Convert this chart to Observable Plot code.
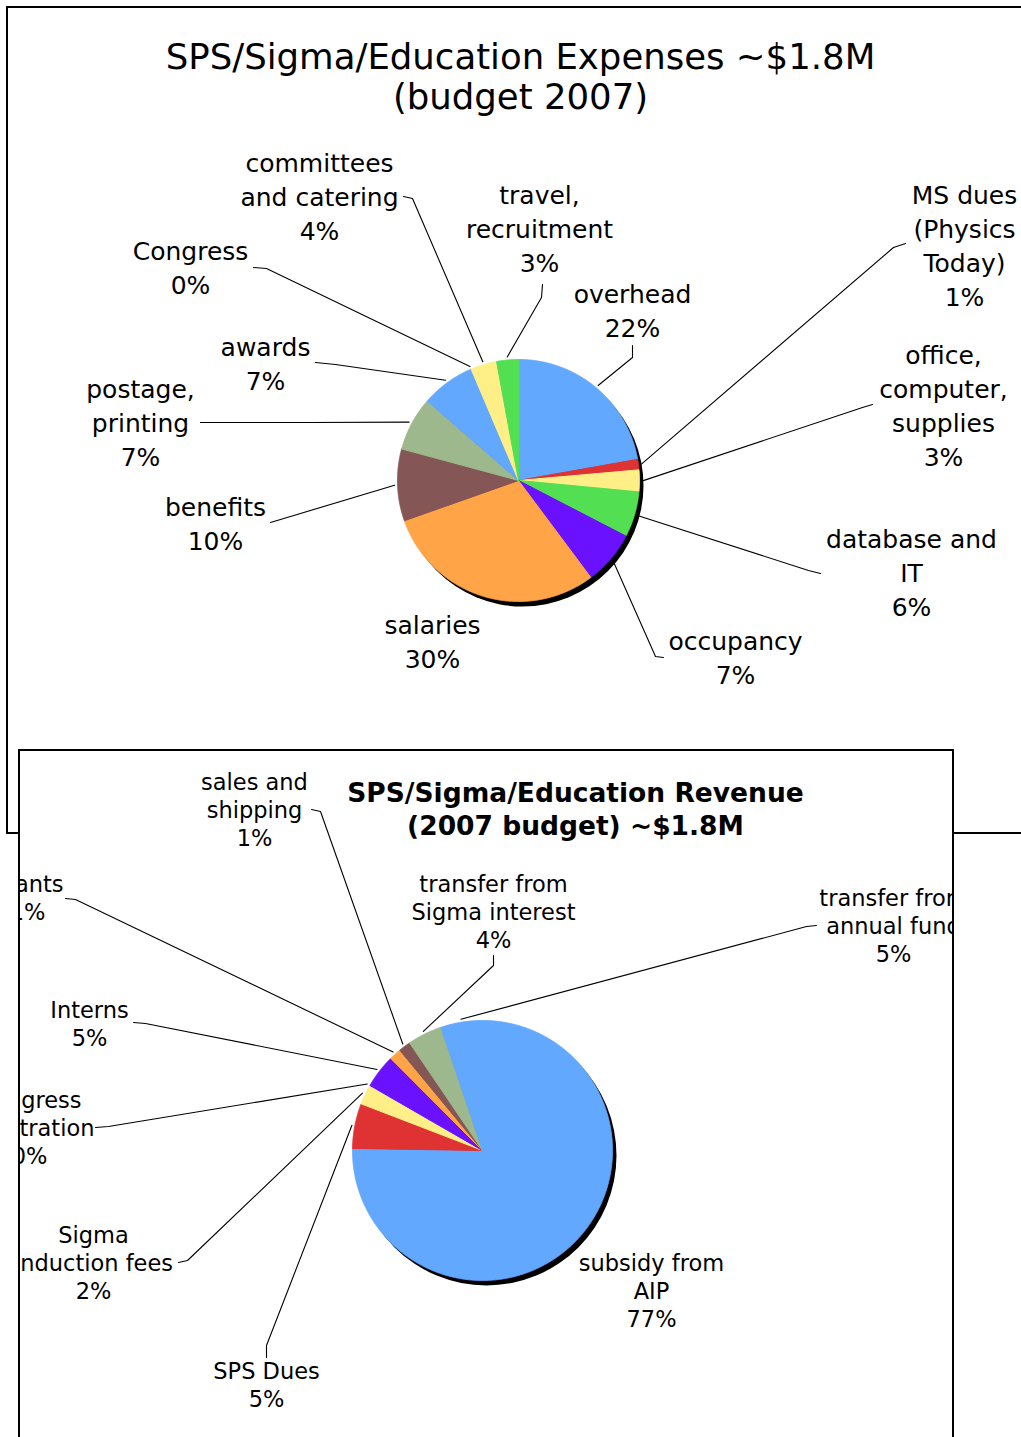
<!DOCTYPE html>
<html><head><meta charset="utf-8">
<script src="https://cdn.jsdelivr.net/npm/d3@7"></script>
<script src="https://cdn.jsdelivr.net/npm/@observablehq/plot@0.6"></script>
<style>
html,body{margin:0;padding:0;background:#fff;width:1021px;height:1437px;overflow:hidden;position:relative}
.panel{position:absolute;border:2px solid #000;background:#fff;overflow:hidden}
#p1{left:6px;top:6px;width:1100px;height:824px}
#p2{left:18px;top:749px;width:932px;height:720px}
.panel svg{max-width:none;display:block}
</style></head><body>
<div id="p1" class="panel"></div><div id="p2" class="panel"></div>
<script>
// ---------- DATA ----------
const palette = ["#62A8FE","#DF3232","#FFEF86","#52E052","#6A12FF","#FFA547","#855656","#9DB88C"];

const expenseTitle = "SPS/Sigma/Education Expenses ~$1.8M\n(budget 2007)";
const expenseCategories = ["overhead","MS dues\n(Physics\nToday)","office,\ncomputer,\nsupplies","database and\nIT","occupancy","salaries","benefits","postage,\nprinting","awards","Congress","committees\nand catering","travel,\nrecruitment"];
const expenseValues = [22.2, 1.4, 2.9, 6.1, 7.2, 29.8, 9.6, 7.2, 7.2, 0, 3.5, 2.9];
const expensePercents = ["22%","1%","3%","6%","7%","30%","10%","7%","7%","0%","4%","3%"];

const revenueTitle = "SPS/Sigma/Education Revenue\n(2007 budget) ~$1.8M";
const revenueCategories = ["subsidy from\nAIP","SPS Dues","Sigma\ninduction fees","Congress\nregistration","Interns","grants","sales and\nshipping","transfer from\nSigma interest","transfer from\nannual fund"];
const revenueValues = [75.4, 5.6, 2.5, 0, 4.2, 1.5, 1.5, 4.3, 5.2];
const revenuePercents = ["77%","5%","2%","0%","5%","1%","1%","4%","5%"];

// ---------- LAYOUT (page pixel positions) ----------
const expenseLayout = [
  {lx:632, ly:309, lead:[[632,345],[632,357]]},
  {lx:964, ly:244, lead:[[905,243],[893,247]]},
  {lx:943, ly:404, lead:[[872,404],[862,407]]},
  {lx:911, ly:571, lead:[[820,573],[808,570]]},
  {lx:735, ly:656, lead:[[663,657],[655,656]]},
  {lx:432, ly:640, lead:null},
  {lx:215, ly:522, lead:[[270,522],[280,519]]},
  {lx:140, ly:421, lead:[[200,422],[310,422]]},
  {lx:265, ly:362, lead:[[315,362],[335,364]]},
  {lx:190, ly:266, lead:[[253,267],[266,268]]},
  {lx:319, ly:195, lead:[[403,196],[412,198]]},
  {lx:539, ly:227, lead:[[542,284],[541,297]]}
];
const revenueLayout = [
  {lx:651, ly:1290, lead:null},
  {lx:266, ly:1384, lead:[[266,1357],[266,1345]]},
  {lx:93,  ly:1262, lead:[[178,1262],[187,1260]]},
  {lx:29,  ly:1127, lead:[[95,1127],[108,1126]]},
  {lx:89,  ly:1023, lead:[[133,1022],[145,1023]]},
  {lx:27,  ly:897,  lead:[[65,898],[75,899]]},
  {lx:254, ly:809,  lead:[[311,809],[320,811]]},
  {lx:493, ly:911,  lead:[[493,955],[493,965]]},
  {lx:893, ly:925,  lead:[[816,925],[806,926]]}
];

function pieChart(o) {
  const arcs = d3.pie().sort(null).value(d => d)(o.vals);
  const slices = [];
  arcs.forEach((a, i) => {
    if (a.endAngle - a.startAngle <= 0) return;
    const n = Math.max(2, Math.ceil((a.endAngle - a.startAngle) / 0.004));
    const col = palette[i % palette.length];
    slices.push({i, col, x: o.cx, y: o.cy});
    for (let k = 0; k <= n; k++) {
      const t = a.startAngle + (a.endAngle - a.startAngle) * k / n;
      slices.push({i, col, x: o.cx + o.r * Math.sin(t), y: o.cy - o.r * Math.cos(t)});
    }
    slices.push({i, col, x: o.cx, y: o.cy});
  });
  const leaders = [];
  o.layout.forEach((L, i) => {
    if (!L.lead) return;
    const a = arcs[i];
    const m = (a.startAngle + a.endAngle) / 2;
    const rr = o.r + 3;
    L.lead.forEach(p => leaders.push({i, x: p[0], y: p[1]}));
    leaders.push({i, x: o.cx + rr * Math.sin(m), y: o.cy - rr * Math.cos(m)});
  });
  const labels = o.layout.map((L, i) => ({x: L.lx, y: L.ly, text: o.cats[i] + "\n" + o.pcts[i]}));
  return Plot.plot({
    width: o.W, height: o.H, margin: 0,
    x: {domain: [o.ox, o.ox + o.W], range: [0, o.W], axis: null},
    y: {domain: [o.oy, o.oy + o.H], range: [0, o.H], axis: null},
    color: {type: "identity"},
    style: {fontFamily: "DejaVu Sans", background: "transparent", color: "black"},
    marks: [
      Plot.dot([{x: o.cx + o.sdx, y: o.cy + o.sdy}], {x: "x", y: "y", r: o.r, fill: "black", stroke: null}),
      Plot.line(slices, {x: "x", y: "y", z: "i", fill: "col", stroke: "col", strokeWidth: 1, strokeLinejoin: "round", curve: "linear"}),
      Plot.line(leaders, {x: "x", y: "y", z: "i", stroke: "black", strokeWidth: 1.1, curve: "linear"}),
      Plot.text(labels, {x: "x", y: "y", text: "text", fontSize: o.fs, lineHeight: o.lh, lineAnchor: "middle", textAnchor: "middle", fill: "black"}),
      Plot.text([{x: o.tx, y: o.ty, text: o.title}], {x: "x", y: "y", text: "text", fontSize: o.tfs, fontWeight: o.tfw, lineHeight: o.tlh, lineAnchor: "middle", textAnchor: "middle", fill: "black"})
    ]
  });
}

document.getElementById("p1").append(pieChart({
  W: 1100, H: 824, ox: 8, oy: 8, cx: 518, cy: 480, r: 121, sdx: 4, sdy: 5,
  vals: expenseValues, cats: expenseCategories, pcts: expensePercents, layout: expenseLayout,
  fs: 25, lh: 34 / 25,
  title: expenseTitle, tx: 520, ty: 76, tfs: 35.5, tfw: "normal", tlh: 40 / 35.5
}));
document.getElementById("p2").append(pieChart({
  W: 932, H: 720, ox: 20, oy: 751, cx: 482, cy: 1150, r: 130, sdx: 4, sdy: 5,
  vals: revenueValues, cats: revenueCategories, pcts: revenuePercents, layout: revenueLayout,
  fs: 22.5, lh: 28 / 22.5,
  title: revenueTitle, tx: 575, ty: 807, tfs: 26.5, tfw: "bold", tlh: 33 / 26.5
}));
</script>
</body></html>
